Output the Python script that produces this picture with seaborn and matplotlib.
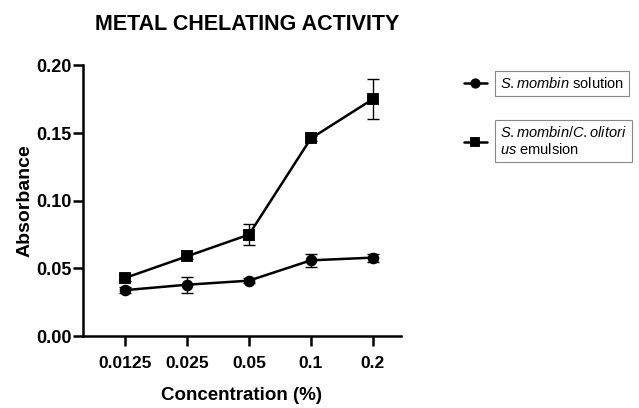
import numpy as np
import pandas as pd
import matplotlib
matplotlib.use("Agg")
import matplotlib.pyplot as plt
import seaborn as sns

categories = ["0.0125", "0.025", "0.05", "0.1", "0.2"]
solution = [0.034, 0.038, 0.041, 0.056, 0.058]
solution_err = [0.002, 0.006, 0.002, 0.005, 0.003]
emulsion = [0.043, 0.059, 0.075, 0.146, 0.175]
emulsion_err = [0.002, 0.002, 0.008, 0.002, 0.015]
series_labels = ["$\\it{S.mombin}$ solution", "$\\it{S.mombin/C.olitori}$\n$\\it{us}$ emulsion"]

sns.set_theme(style="ticks")
plt.rcParams["font.family"] = ["Liberation Sans", "DejaVu Sans"]
plt.rcParams["mathtext.fontset"] = "custom"
plt.rcParams["mathtext.it"] = "Liberation Sans:italic"
plt.rcParams["mathtext.rm"] = "Liberation Sans"
for k in ["text.color", "axes.labelcolor", "xtick.color", "ytick.color", "axes.edgecolor"]:
    plt.rcParams[k] = "black"

df = pd.DataFrame({
    "Concentration": categories * 2,
    "Absorbance": solution + emulsion,
    "Series": [series_labels[0]] * len(categories) + [series_labels[1]] * len(categories),
})

fig = plt.figure(figsize=(6.39, 4.08), dpi=100)
ax = fig.add_axes([0.13, 0.176, 0.497, 0.664])

sns.pointplot(data=df, x="Concentration", y="Absorbance", hue="Series",
              order=categories, hue_order=series_labels,
              palette=["black", "black"], markers=["o", "s"], linestyles=["-", "-"],
              markersize=7, linewidth=1.8, errorbar=None, ax=ax, legend=True)

pos = np.arange(len(categories))
ax.errorbar(pos, solution, yerr=solution_err, fmt="none", ecolor="black",
            elinewidth=1.0, capsize=4, capthick=1.0, zorder=5)
ax.errorbar(pos, emulsion, yerr=emulsion_err, fmt="none", ecolor="black",
            elinewidth=1.0, capsize=4, capthick=1.0, zorder=5)

ax.set_ylim(0, 0.2)
ax.set_xlim(-0.68, 4.45)
ax.set_yticks([0.0, 0.05, 0.10, 0.15, 0.20])
ax.set_yticklabels(["0.00", "0.05", "0.10", "0.15", "0.20"])
sns.despine(ax=ax)
for s in ["left", "bottom"]:
    ax.spines[s].set_linewidth(1.8)
ax.tick_params(axis="y", width=1.8, length=7, pad=1, labelsize=13, color="black")
ax.tick_params(axis="x", width=1.8, length=7, pad=7, labelsize=12.5, color="black")
for lab in ax.get_xticklabels() + ax.get_yticklabels():
    lab.set_fontweight("bold")
ax.set_xlabel("Concentration (%)", fontsize=13.5, fontweight="bold", labelpad=12)
ax.set_ylabel("Absorbance", fontsize=14, fontweight="bold", labelpad=2)
fig.text(0.387, 0.94, "METAL CHELATING ACTIVITY", ha="center", va="center",
         fontsize=15.5, fontweight="bold")

handles, labels = ax.get_legend_handles_labels()
for h in handles:
    h.set_markersize(6)
ax.get_legend().remove()
leg = fig.legend(handles, labels, loc="upper left", bbox_to_anchor=(0.705, 0.845),
                 frameon=False, fontsize=10.5, handlelength=1.6, handletextpad=0.9,
                 labelspacing=2.3)
for t in leg.get_texts():
    t.set_bbox(dict(facecolor="white", edgecolor="#888888", linewidth=0.8,
                    boxstyle="square,pad=0.35"))

fig.savefig("out.png", dpi=100)
